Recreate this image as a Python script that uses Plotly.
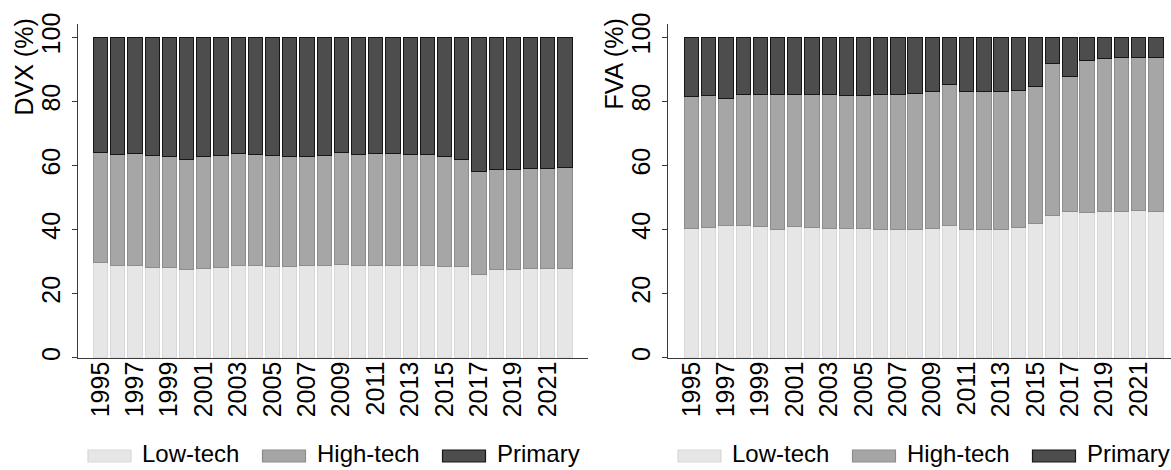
import plotly.graph_objects as go

# ---------------- data ----------------
years = list(range(1995, 2023))
tick_years = list(range(1995, 2022, 2))

series_names = ["Low-tech", "High-tech", "Primary"]

dvx_low = [29.7, 28.9, 28.7, 28.1, 28.1, 27.6, 27.9, 28.2, 28.8, 28.7, 28.6, 28.5, 28.7, 28.8,
           29.1, 28.8, 28.9, 28.9, 28.8, 28.7, 28.4, 28.5, 26.0, 27.4, 27.6, 27.8, 27.8, 27.9]
dvx_high = [34.5, 34.6, 35.0, 34.9, 34.8, 34.2, 35.0, 34.8, 34.9, 34.8, 34.6, 34.4, 34.2, 34.4,
            34.8, 34.6, 34.8, 34.7, 34.7, 34.6, 34.5, 33.3, 32.2, 31.4, 31.1, 31.3, 31.4, 31.5]
dvx_primary = [35.8, 36.5, 36.3, 37.0, 37.1, 38.2, 37.1, 37.0, 36.3, 36.5, 36.8, 37.1, 37.1, 36.8,
               36.1, 36.6, 36.3, 36.4, 36.5, 36.7, 37.1, 38.2, 41.8, 41.2, 41.3, 40.9, 40.8, 40.6]

fva_low = [40.3, 40.6, 41.2, 41.2, 41.0, 40.1, 41.0, 40.6, 40.4, 40.3, 40.4, 40.0, 39.9, 40.1,
           40.3, 41.2, 40.1, 40.1, 40.1, 40.5, 42.0, 44.4, 45.6, 45.4, 45.7, 45.7, 45.8, 45.7]
fva_high = [41.2, 41.1, 39.8, 40.8, 41.0, 42.0, 41.1, 41.7, 41.6, 41.5, 41.3, 42.0, 42.2, 42.3,
            42.7, 44.2, 42.9, 43.1, 43.1, 42.8, 42.8, 47.5, 42.3, 47.4, 47.7, 47.9, 47.8, 48.1]
fva_primary = [18.5, 18.3, 19.0, 18.0, 18.0, 17.9, 17.9, 17.7, 18.0, 18.2, 18.3, 18.0, 17.9, 17.6,
               17.0, 14.6, 17.0, 16.8, 16.8, 16.7, 15.2, 8.1, 12.1, 7.2, 6.6, 6.4, 6.4, 6.2]

panel_titles = ["DVX (%)", "FVA (%)"]
y_ticks = [0, 20, 40, 60, 80, 100]

# ---------------- styles ----------------
W, H = 1171, 470
FONT = "Liberation Sans, Arial, Helvetica, sans-serif"
fills = ["#e6e6e6", "#a6a6a6", "#4d4d4d"]
edges = ["#d8d8d8", "#8c8c8c", "#161616"]
axis_col = "#3a3a3a"
TICK_SIZE = 25


def px_x(p):
    return p / W


def px_y(p):
    return 1 - p / H


fig = go.Figure()

panels = [
    ("x", "y", [dvx_low, dvx_high, dvx_primary]),
    ("x2", "y2", [fva_low, fva_high, fva_primary]),
]
for xa, ya, vals in panels:
    for name, v, fc, ec in zip(series_names, vals, fills, edges):
        fig.add_trace(go.Bar(
            x=years, y=v, name=name, xaxis=xa, yaxis=ya,
            marker=dict(color=fc, line=dict(color=ec, width=1)),
            showlegend=False, hoverinfo="x+y+name",
        ))

xaxis_common = dict(
    tickmode="array", tickvals=tick_years, ticktext=[str(t) for t in tick_years],
    tickangle=-90, ticks="", showline=True, linecolor=axis_col, linewidth=1,
    showgrid=False, zeroline=False, tickfont=dict(family=FONT, size=TICK_SIZE, color="#000"),
    ticklabelstandoff=-7, fixedrange=True,
)
yaxis_common = dict(
    range=[0, 104.06], tickmode="array", tickvals=y_ticks, tickangle=-90,
    ticks="outside", ticklen=5, tickcolor=axis_col, tickwidth=1,
    showline=True, linecolor=axis_col, linewidth=1, showgrid=False, zeroline=False,
    tickfont=dict(family=FONT, size=TICK_SIZE, color="#000"), ticklabelstandoff=2,
    fixedrange=True,
)

fig.update_layout(
    width=W, height=H,
    margin=dict(l=0, r=0, t=0, b=0, autoexpand=False),
    paper_bgcolor="white", plot_bgcolor="white",
    barmode="stack", bargap=0.17,
    showlegend=False,
    font=dict(family=FONT, color="#000"),
    xaxis=dict(domain=[px_x(78), px_x(588)], range=[1993.69, 2023.34], anchor="y", **xaxis_common),
    xaxis2=dict(domain=[px_x(668), 1.0], range=[1993.63, 2022.88], anchor="y2", **xaxis_common),
    yaxis=dict(domain=[px_y(357.7), px_y(24.3)], anchor="x", **yaxis_common),
    yaxis2=dict(domain=[px_y(357.7), px_y(24.3)], anchor="x2", **yaxis_common),
)

# y titles (placed at top, as in the reference)
for title, xc in zip(panel_titles, [23, 613]):
    fig.add_annotation(
        text=title, xref="paper", yref="paper", x=px_x(xc), y=px_y(17),
        xanchor="center", yanchor="top", textangle=-90, showarrow=False,
        font=dict(family=FONT, size=25, color="#000"),
    )

# legends below each panel
swatch_offsets = [88, 262.5, 442.5]
for base in [0, 590]:
    for name, off, fc, ec in zip(series_names, swatch_offsets, fills, edges):
        x0 = base + off
        fig.add_shape(
            type="rect", xref="paper", yref="paper",
            x0=px_x(x0), x1=px_x(x0 + 43), y0=px_y(462), y1=px_y(450),
            fillcolor=fc, line=dict(color=ec, width=1.2),
        )
        fig.add_annotation(
            text=name, xref="paper", yref="paper", x=px_x(x0 + 52), y=px_y(469),
            xanchor="left", yanchor="bottom", showarrow=False,
            font=dict(family=FONT, size=24, color="#000"),
        )

fig.write_html("out.html")
